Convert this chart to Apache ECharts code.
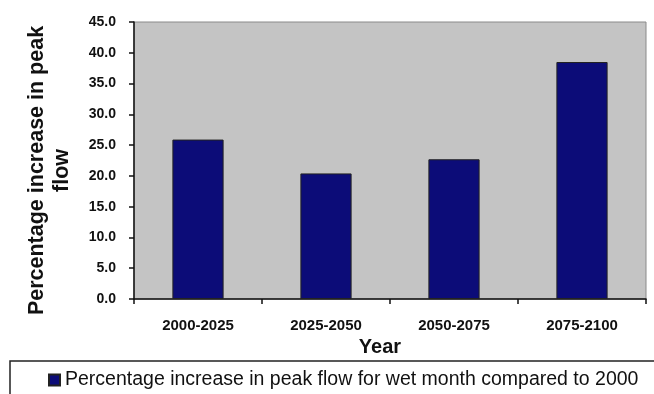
<!DOCTYPE html>
<html>
<head>
<meta charset="utf-8">
<script src="https://cdn.jsdelivr.net/npm/echarts@6/dist/echarts.min.js"></script>
<style>
html,body{margin:0;padding:0;background:#ffffff;}
#c{width:654px;height:394px;}
</style>
</head>
<body>
<div id="c"></div>
<script>
const categories = ['2000-2025', '2025-2050', '2050-2075', '2075-2100'];
const peakIncrease = [25.9, 20.4, 22.7, 38.5];
const seriesName = 'Percentage increase in peak flow for wet month compared to 2000';
const yTicks = { min: 0, max: 45, interval: 5 };

const chart = echarts.init(document.getElementById('c'), null, { renderer: 'canvas' });
const font = '"Liberation Sans", Arial, sans-serif';
chart.setOption({
  backgroundColor: '#ffffff',
  animation: false,
  textStyle: { fontFamily: font },
  grid: { left: 134, right: 8, top: 22, bottom: 95, show: true, backgroundColor: '#c4c4c4', borderColor: '#8a8a8a', borderWidth: 1 },
  legend: {
    left: 10, top: 361,
    padding: [9, 200, 30, 38],
    borderColor: '#222222', borderWidth: 1.5,
    itemWidth: 11, itemHeight: 11,
    icon: 'rect',
    textStyle: { fontFamily: font, fontSize: 19.5, color: '#111111' },
    data: [seriesName]
  },
  xAxis: {
    type: 'category',
    data: categories,
    name: 'Year',
    nameLocation: 'middle',
    nameGap: 36,
    nameTextStyle: { fontFamily: font, fontSize: 20, fontWeight: 'bold', color: '#111', padding: [0, 20, 0, 0] },
    axisLine: { lineStyle: { color: '#111', width: 1.5 } },
    axisTick: { show: true, length: 5, lineStyle: { color: '#111', width: 1.5 } },
    axisLabel: { fontFamily: font, fontSize: 15, fontWeight: 'bold', color: '#111', margin: 19 }
  },
  yAxis: {
    type: 'value',
    min: yTicks.min, max: yTicks.max, interval: yTicks.interval,
    name: 'Percentage increase in peak\nflow',
    nameLocation: 'middle',
    nameGap: 59,
    nameRotate: 90,
    nameTextStyle: { fontFamily: font, fontSize: 21.5, fontWeight: 'bold', color: '#111', lineHeight: 25, padding: [0, 20, 0, 0] },
    axisLine: { show: true, lineStyle: { color: '#111', width: 1.5 } },
    axisTick: { show: true, length: 5, lineStyle: { color: '#111', width: 1.5 } },
    splitLine: { show: false },
    axisLabel: { fontFamily: font, fontSize: 14, fontWeight: 'bold', color: '#111', margin: 18, formatter: v => v.toFixed(1) }
  },
  series: [{
    name: seriesName,
    type: 'bar',
    data: peakIncrease,
    barWidth: '40%',
    itemStyle: { color: '#0c0c78', borderColor: '#222222', borderWidth: 1 }
  }]
});
</script>
</body>
</html>
